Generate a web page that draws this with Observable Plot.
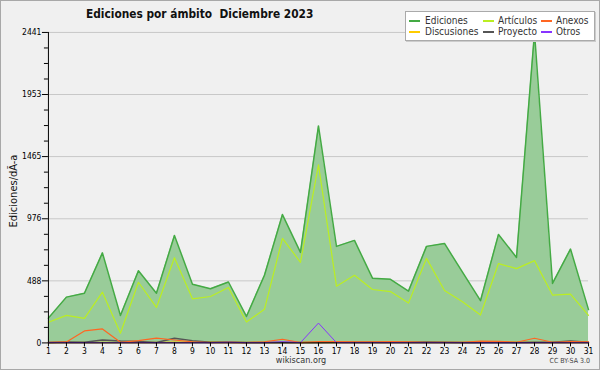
<!DOCTYPE html>
<html>
<head>
<meta charset="utf-8">
<script src="https://cdn.jsdelivr.net/npm/d3@7"></script>
<script src="https://cdn.jsdelivr.net/npm/@observablehq/plot@0.6"></script>
<style>
  body { margin: 0; background: #fff; }
  #wrap { position: relative; width: 598px; height: 368px; background: #f0f0f0; border: 1px solid #a8a8a8; overflow: hidden; font-family: "DejaVu Sans Condensed", "DejaVu Sans", sans-serif; }
  #chart { position: absolute; left: -1px; top: -1px; }
  .ov { position: absolute; white-space: nowrap; }
  #title { left: 85px; top: 6px; font-size: 11.8px; font-weight: bold; color: #111; }
  #ylab { left: 12px; top: 190px; font-size: 11px; color: #111; transform: translate(-50%, -50%) rotate(-90deg); }
  #foot { left: 300px; top: 354px; font-size: 9px; color: #333; transform: translateX(-50%); }
  #cc { right: 9px; top: 356px; font-size: 7px; color: #444; }
  #legend { left: 404px; top: 10px; width: 188px; height: 28px; background: #fff; border: 1px solid #aaa; box-shadow: 1px 1px 0 #ccc; }
  .li { position: absolute; font-size: 10px; line-height: 11px; color: #333; }
  .sw { position: absolute; width: 11px; height: 1.5px; }
</style>
</head>
<body>
<div id="wrap">
  <div id="chart"></div>
  <div class="ov" id="title">Ediciones por ámbito&nbsp;&nbsp;Diciembre 2023</div>
  <div class="ov" id="ylab">Ediciones/dÃ-a</div>
  <div class="ov" id="foot">wikiscan.org</div>
  <div class="ov" id="cc">CC BY-SA 3.0</div>
  <div class="ov" id="legend"></div>
</div>
<script>
const days = d3.range(1, 32);
const ediciones   = [195,360,391,708,215,568,391,845,462,426,479,208,532,1009,712,1706,759,806,509,500,407,759,782,556,332,853,672,2441,468,738,262];
const articulos   = [162,217,193,399,76,477,279,670,347,365,436,164,264,822,634,1400,446,532,420,404,313,665,412,323,219,624,584,647,376,383,217];
const anexos      = [5,8,94,110,5,18,37,23,8,3,5,3,8,29,3,10,10,8,8,10,8,5,5,5,14,12,5,37,5,10,8];
const discusiones = [2,3,3,3,3,3,3,5,5,8,5,3,3,3,3,3,3,3,3,3,3,3,3,3,5,8,5,3,3,5,3];
const proyecto    = [3,8,5,23,15,12,3,37,18,5,8,3,3,3,3,3,5,5,5,5,5,8,5,3,3,5,3,5,5,15,5];
const otros       = [2,2,2,2,2,2,2,2,2,2,5,2,2,10,2,156,2,2,2,2,2,2,2,2,2,2,2,2,2,2,2];
const yTicks = [0,488,976,1465,1953,2441];
const seriesNames = ["Ediciones","Artículos","Anexos","Discusiones","Proyecto","Otros"];
const seriesColors = ["#44aa44","#bbee22","#ff6622","#ffcc00","#555555","#8833ff"];

const data = days.map((d, i) => ({day: d, ediciones: ediciones[i], articulos: articulos[i], anexos: anexos[i], discusiones: discusiones[i], proyecto: proyecto[i], otros: otros[i]}));
const minor = [];
for (let i = 0; i < yTicks.length - 1; i++) {
  const a = yTicks[i], b = yTicks[i+1];
  for (let k = 1; k < 4; k++) minor.push(a + (b - a) * k / 4);
}
const fmt = d => String(d);
const line = (key, color, w = 1) => Plot.lineY(data, {x: "day", y: key, stroke: color, strokeWidth: w});

const chart = Plot.plot({
  width: 600, height: 370,
  marginLeft: 48, marginRight: 11, marginTop: 32, marginBottom: 27,
  style: {background: "transparent", fontFamily: "DejaVu Sans Condensed, DejaVu Sans, sans-serif", fontSize: "8.5px", color: "#000", overflow: "visible"},
  x: {domain: [1, 31]},
  y: {domain: [0, 2441]},
  marks: [
    Plot.gridY(yTicks, {stroke: "#c8c8c8", strokeOpacity: 1}),
    Plot.areaY(data, {x: "day", y: "ediciones", fill: "#99cc99"}),
    line("ediciones", seriesColors[0], 1.5),
    line("articulos", seriesColors[1], 1.2),
    line("discusiones", seriesColors[3], 1.5),
    line("proyecto", seriesColors[4], 1.5),
    line("anexos", seriesColors[2], 1.2),
    line("otros", seriesColors[5], 1),
    Plot.ruleX([1], {stroke: "#000"}),
    Plot.ruleY([0], {stroke: "#000"}),
    Plot.axisY(yTicks, {tickSize: 6, tickPadding: 1, tickFormat: fmt, label: null, stroke: "#000"}),
    Plot.axisY(minor, {tickSize: 4, text: null, label: null, stroke: "#000"}),
    Plot.axisX(days, {tickSize: 4, tickPadding: 1, tickFormat: fmt, label: null, stroke: "#000"})
  ]
});
document.getElementById("chart").appendChild(chart);

// legend
const legend = document.getElementById("legend");
const cols = [[3, 19], [77, 92], [135, 150]];
const order = [["Ediciones", 0], ["Artículos", 1], ["Anexos", 2], ["Discusiones", 3], ["Proyecto", 4], ["Otros", 5]];
order.forEach(([name, ci], i) => {
  const col = cols[i % 3], row = Math.floor(i / 3);
  const top = row === 0 ? 3 : 14;
  const sw = document.createElement("div");
  sw.className = "sw";
  sw.style.left = col[0] + "px";
  sw.style.top = (top + 5) + "px";
  sw.style.background = seriesColors[ci];
  legend.appendChild(sw);
  const t = document.createElement("div");
  t.className = "li";
  t.style.left = col[1] + "px";
  t.style.top = top + "px";
  t.textContent = name;
  legend.appendChild(t);
});
</script>
</body>
</html>
